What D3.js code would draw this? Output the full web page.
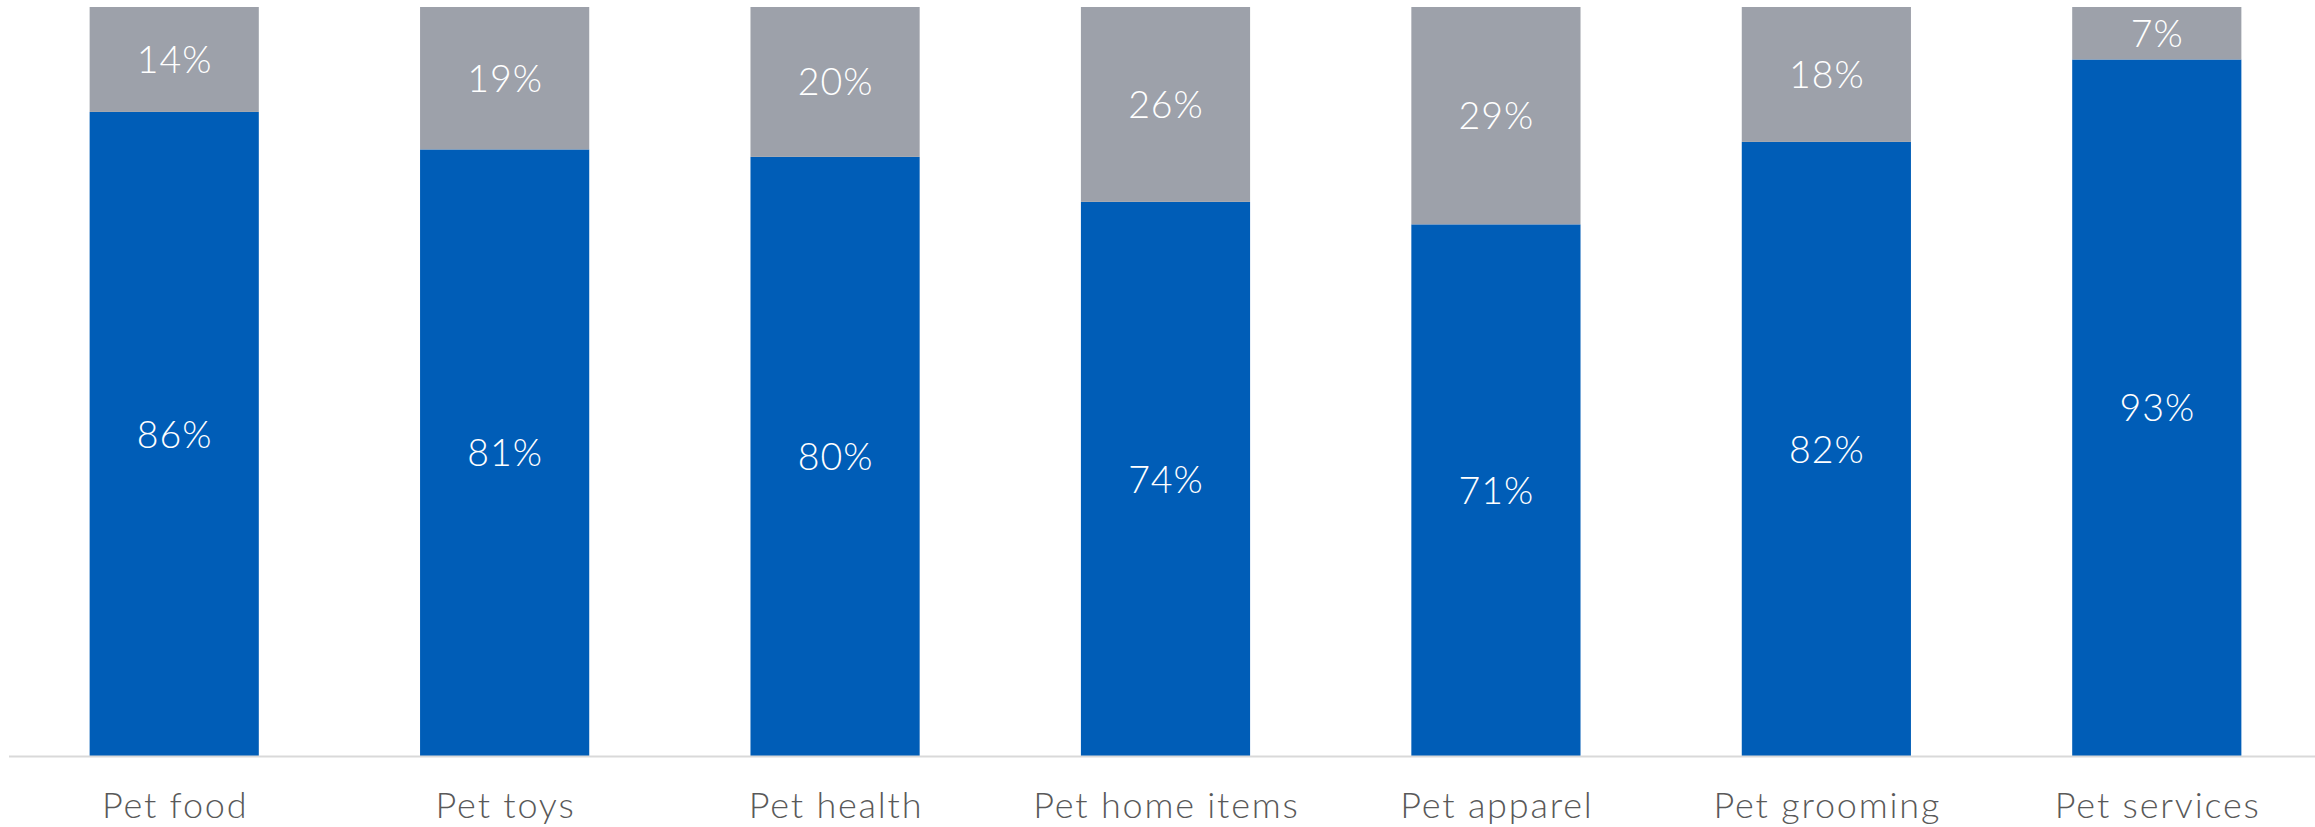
<!DOCTYPE html>
<html>
<head>
<meta charset="utf-8">
<script src="https://cdn.jsdelivr.net/npm/d3@7"></script>
<style>
  html, body { margin: 0; padding: 0; background: #ffffff; }
  svg { display: block; }
</style>
</head>
<body>
<svg id="chart" width="2315" height="827"></svg>
<script>
const categories = ["Pet food", "Pet toys", "Pet health", "Pet home items", "Pet apparel", "Pet grooming", "Pet services"];
const blueValues = [86, 81, 80, 74, 71, 82, 93];
const grayValues = [14, 19, 20, 26, 29, 18, 7];
const seriesKeys = ["blue", "gray"];

const W = 2315, H = 827;
const svg = d3.select("#chart");

const rows = categories.map((c, i) => ({ category: c, blue: blueValues[i], gray: grayValues[i] }));
const stack = d3.stack().keys(seriesKeys)(rows);

const x = d3.scaleBand().domain(categories).range([9, 2322]).paddingInner(0.488).paddingOuter(0.244);
const y = d3.scaleLinear().domain([0, 100]).range([756.5, 7]);
const color = d3.scaleOrdinal().domain(seriesKeys).range(["#005DB7", "#9DA1AA"]);

const groups = svg.append("g").selectAll("g").data(stack).join("g").attr("fill", d => color(d.key));

groups.selectAll("rect").data(d => d).join("rect")
  .attr("x", d => x(d.data.category))
  .attr("width", x.bandwidth())
  .attr("y", d => y(d[1]))
  .attr("height", d => y(d[0]) - y(d[1]));

const labelFont = "Lato, 'Open Sans', sans-serif";

// value labels
groups.selectAll("text").data(d => d).join("text")
  .attr("x", d => x(d.data.category) + x.bandwidth() / 2 + 0.5)
  .attr("y", d => (y(d[0]) + y(d[1])) / 2 + 13.5)
  .attr("text-anchor", "middle")
  .attr("fill", "#ffffff")
  .style("font-family", labelFont)
  .style("font-weight", 300)
  .style("font-size", "37.5px")
  .style("letter-spacing", "1px")
  .text(d => (d[1] - d[0]) + "%");

// x axis
const xAxis = d3.axisBottom(x).tickSize(0).tickPadding(0);
const axisG = svg.append("g").attr("transform", `translate(0, ${y(0)})`).call(xAxis);
axisG.select(".domain").attr("stroke", "#D9D9D9").attr("stroke-width", 2).attr("d", `M9,0H${W}`);
axisG.selectAll(".tick text")
  .attr("dy", null)
  .attr("x", 0.9)
  .attr("y", 61.5)
  .attr("fill", "#595959")
  .style("font-family", labelFont)
  .style("font-weight", 300)
  .style("font-size", "36px")
  .style("letter-spacing", "1.8px");
</script>
</body>
</html>
